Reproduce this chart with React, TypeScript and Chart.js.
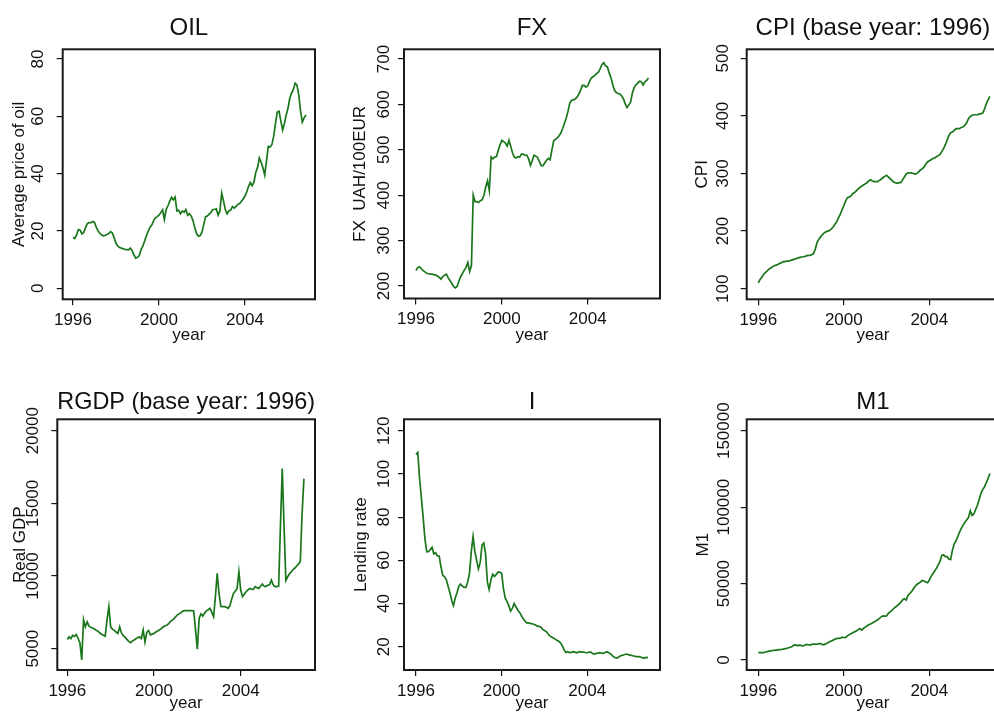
import React, { useEffect, useRef } from 'react';
import { Chart, registerables } from 'chart.js';
Chart.register(...registerables);

// ---------- data (monthly, starting January 1996) ----------
const START_YEAR = 1996;
const YEAR_TICKS = [1996, 2000, 2004];

const OIL = [
  17.8, 17.4, 18.6, 20.5, 20.3, 19.0, 19.5, 21.2, 22.6, 22.9, 22.9, 23.3,
  23.0, 21.3, 20.0, 19.2, 18.6, 18.3, 18.5, 18.8, 19.1, 19.8, 19.3, 17.5,
  15.7, 14.8, 14.2, 14.0, 13.8, 13.6, 13.5, 13.4, 14.0, 13.1, 11.7, 10.5,
  10.8, 11.4, 13.5, 14.8, 16.5, 18.4, 19.9, 21.3, 22.1, 23.6, 24.6, 25.0,
  25.5, 26.4, 27.4, 24.0, 27.5, 28.8, 30.4, 31.7, 30.9, 31.8, 27.0, 27.2,
  26.0, 27.0, 26.5, 27.5, 25.5, 26.0, 25.2, 23.6, 21.0, 19.0, 18.2, 18.4,
  19.7, 22.3, 25.0, 25.2, 25.9, 26.5, 27.5, 27.5, 27.7, 25.5, 27.0, 33.2,
  30.5, 27.5, 26.0, 27.0, 27.3, 28.5, 28.0, 28.6, 29.3, 29.6, 30.4, 31.2,
  32.2, 33.7, 35.6, 36.9, 35.8, 37.0, 40.4, 42.1, 45.5, 44.0, 42.1, 39.5,
  44.5, 49.5, 49.3, 50.1, 53.0, 57.5, 61.5, 61.8, 58.4, 55.2, 57.5, 60.5,
  62.8, 66.3, 68.1, 69.4, 71.6, 70.9, 67.5, 61.8, 58.0, 59.5, 60.5,
];
const OIL_TICKS = [0, 20, 40, 60, 80];

const FX = [
  234, 241, 242, 238, 234, 231, 228, 227, 226, 226, 225, 224,
  222, 219, 215, 221, 224, 226, 218, 212, 206, 199, 196, 199,
  211, 221, 228, 235, 241, 252, 232, 245, 400, 386, 386, 384,
  388, 390, 400, 418, 432, 410, 484, 480, 484, 485, 499, 511,
  521, 518, 515, 508, 521, 507, 493, 484, 482, 485, 484, 491,
  490, 488, 488, 480, 466, 476, 488, 486, 483, 474, 465, 465,
  471, 477, 481, 478, 500, 520, 523, 526, 531, 537, 547, 558,
  570, 585, 603, 609, 610, 612, 616, 622, 631, 642, 642, 638,
  641, 650, 658, 661, 664, 668, 671, 679, 688, 692, 685, 683,
  670, 659, 644, 631, 626, 624, 623, 619, 612, 601, 593, 599,
  605, 625, 637, 643, 647, 651, 650, 643, 650, 653, 658,
];
const FX_TICKS = [200, 300, 400, 500, 600, 700];

const CPI = [
  110, 116, 120, 125, 128, 131, 134, 136, 138, 140, 141, 142,
  144, 145, 147, 147, 148, 148, 149, 150, 151, 152, 153, 154,
  155, 155, 156, 157, 158, 158, 159, 161, 169, 180, 186, 190,
  194, 197, 199, 200, 201, 204, 207, 212, 216, 223, 229, 237,
  244, 252, 258, 259, 261, 265, 267, 270, 273, 276, 278, 280,
  282, 284, 287, 289, 287, 286, 286, 286, 288, 290, 293, 295,
  297, 294, 291, 288, 285, 284, 283, 284, 284, 289, 294, 299,
  301, 301, 301, 300, 299, 300, 303, 306, 308, 311, 316, 320,
  322, 324, 326, 327, 329, 331, 333, 338, 343, 350, 358, 366,
  371, 372, 375, 378, 378, 378, 380, 381, 384, 388, 395, 399,
  401, 402, 402, 402, 403, 404, 405, 412, 421, 428, 434,
];
const CPI_TICKS = [100, 200, 300, 400, 500];

const RGDP = [
  5640, 5820, 5700, 5920, 5850, 5980, 5700, 5400, 4220, 7000, 6500, 6850,
  6550, 6480, 6420, 6350, 6260, 6200, 6080, 6000, 5930, 5860, 7000, 7890,
  6500, 6350, 6260, 6150, 6050, 6500, 6080, 5900, 5780, 5640, 5500, 5410,
  5520, 5600, 5680, 5760, 5820, 5700, 6290, 5450, 6120, 6250, 5950, 6000,
  6050, 6150, 6220, 6290, 6380, 6490, 6560, 6610, 6700, 6860, 6950, 7050,
  7200, 7330, 7400, 7480, 7590, 7615, 7615, 7615, 7615, 7615, 7600, 6300,
  4960, 7100, 7400, 7250, 7450, 7600, 7680, 7780, 7500, 7200, 8600, 10180,
  8800, 7900, 7890, 7890, 7850, 7780, 7950, 8400, 8800, 8950, 9150, 10300,
  9040, 8580, 8750, 8920, 9050, 9150, 9100, 9080, 9270, 9200, 9150, 9300,
  9450, 9300, 9270, 9380, 9400, 9720, 9400, 9270, 9270, 9300, 13400, 17400,
  13400, 9700, 9950, 10150, 10300, 10450, 10550, 10690, 10830, 10990, 14300, 16700,
];
const RGDP_TICKS = [5000, 10000, 15000, 20000];

const LENDING = [
  109, 110, 98, 89, 80, 70, 64, 64, 65, 66, 63, 63.5,
  62, 62, 57, 53, 52.5, 51, 48, 45, 41.5, 39, 42.5, 45,
  48, 49, 48, 47.5, 47.5, 50, 54, 64, 71, 64, 60, 56,
  59, 67, 68, 63, 50, 46.5, 51, 53.5, 52.5, 53.5, 54.5, 54.5,
  54, 47, 42.5, 41, 39, 36.5, 37.7, 40, 38.5, 37, 36, 34.5,
  33, 32, 31, 31, 30.8, 30.6, 30.4, 30, 29.5, 29.4, 29, 28,
  27.5, 27, 26, 25, 24.5, 24, 23.5, 23, 22.5, 21.8, 20.5, 18.5,
  17.3, 17.7, 17.3, 17.4, 17.7, 17.5, 17.2, 17.5, 17.7, 17.5, 17.5, 17.3,
  17.2, 17.5, 17.5, 16.8, 16.6, 16.9, 17.0, 17.2, 17.0, 16.9, 17.3, 17.7,
  17.2, 16.8, 15.9, 15.2, 14.8, 14.8, 15.5, 15.9, 16.1, 16.4, 16.6, 16.3,
  16.1, 15.9, 15.7, 15.5, 15.4, 15.4, 15.2, 14.8, 14.7, 15.0, 14.9,
];
const LENDING_TICKS = [20, 40, 60, 80, 100, 120];

const M1 = [
  4800, 4800, 4800, 4850, 5200, 5500, 5800, 6000, 6200, 6350, 6500, 6650,
  6800, 6950, 7150, 7400, 7650, 8000, 8350, 8900, 9700, 9900, 9300, 9700,
  9600, 9200, 9700, 10200, 10000, 9800, 10200, 10450, 10350, 10300, 10700, 10700,
  10100, 10100, 10700, 11300, 11900, 12450, 13000, 13600, 14150, 14150, 14300, 15000,
  14700, 14600, 15800, 16600, 17200, 17800, 18400, 18900, 19900, 20600, 19600, 20600,
  21500, 22300, 23050, 23600, 24200, 24800, 25500, 26300, 27200, 28200, 28900, 28700,
  28800, 30600, 31500, 32400, 33700, 34700, 35500, 36500, 37700, 39300, 40100, 39200,
  42200, 43500, 44700, 46400, 48100, 49400, 50200, 50900, 52100, 51700, 51000, 50600,
  52200, 54700, 56400, 58200, 59900, 62200, 64500, 68400, 68800, 67600, 67600, 66000,
  65800, 72000, 76000, 78000, 80700, 83700, 86200, 88200, 90100, 91800, 93200, 97600,
  94500, 95500, 98400, 101200, 105000, 109000, 111500, 113300, 116000, 118800, 122000,
];
const M1_TICKS = [0, 50000, 100000, 150000];

// ---------- styling / layout ----------
const FONT = "'Liberation Sans', Arial, Helvetica, sans-serif";
const GREEN = '#1a761a';
const INK = '#111111';
const TICK_LEN = 6;
const AXIS_SIZE = 17;
const TITLE_SIZE = 24;

type PanelSpec = {
  title: string; yTitle: string; values: number[]; yTicks: number[];
  yMin: number; yMax: number; xMin: number; xMax: number;
  cx: number; cy: number; cw: number; ch: number;
  L: number; T: number; R: number; B: number;
  titleMid: number; yTitleX: number; yLabelOff: number; xLabelMid: number; xTitleMid: number;
};

const PANELS: PanelSpec[] = [
  { title: 'OIL', yTitle: 'Average price of oil', values: OIL, yTicks: OIL_TICKS,
    yMin: -3.84, yMax: 83.4, xMin: 1995.521, xMax: 2007.256,
    cx: 0, cy: 0, cw: 340, ch: 360, L: 62.7, T: 49.3, R: 315, B: 299.3,
    titleMid: 28, yTitleX: 19.7, yLabelOff: 24, xLabelMid: 320, xTitleMid: 335.5 },
  { title: 'FX', yTitle: 'FX  UAH/100EUR', values: FX, yTicks: FX_TICKS,
    yMin: 172.5, yMax: 721.4, xMin: 1995.441, xMax: 2007.37,
    cx: 330, cy: 0, cw: 340, ch: 360, L: 404, T: 49.3, R: 660, B: 298.5,
    titleMid: 28, yTitleX: 360, yLabelOff: 19.7, xLabelMid: 319.5, xTitleMid: 335.5 },
  { title: 'CPI (base year: 1996)', yTitle: 'CPI', values: CPI, yTicks: CPI_TICKS,
    yMin: 81.6, yMax: 515.6, xMin: 1995.457, xMax: 2007.27,
    cx: 660, cy: 0, cw: 350, ch: 360, L: 746.7, T: 49.3, R: 999.2, B: 299.3,
    titleMid: 28, yTitleX: 702.5, yLabelOff: 23.3, xLabelMid: 320, xTitleMid: 335.5 },
  { title: 'RGDP (base year: 1996)', yTitle: 'Real GDP', values: RGDP, yTicks: RGDP_TICKS,
    yMin: 3534, yMax: 20784, xMin: 1995.539, xMax: 2007.428,
    cx: 0, cy: 360, cw: 340, ch: 353, L: 57.3, T: 419.3, R: 315, B: 670,
    titleMid: 402.5, yTitleX: 20, yLabelOff: 24, xLabelMid: 691.7, xTitleMid: 703 },
  { title: 'I', yTitle: 'Lending rate', values: LENDING, yTicks: LENDING_TICKS,
    yMin: 9.2, yMax: 125.3, xMin: 1995.44, xMax: 2007.397,
    cx: 330, cy: 360, cw: 340, ch: 353, L: 404, T: 419.3, R: 660, B: 670,
    titleMid: 402.5, yTitleX: 361, yLabelOff: 19.5, xLabelMid: 691.7, xTitleMid: 703 },
  { title: 'M1', yTitle: 'M1', values: M1, yTicks: M1_TICKS,
    yMin: -6541, yMax: 157457, xMin: 1995.457, xMax: 2007.27,
    cx: 660, cy: 360, cw: 350, ch: 353, L: 746.7, T: 419.3, R: 999.2, B: 670,
    titleMid: 402.5, yTitleX: 703, yLabelOff: 22.5, xLabelMid: 691.7, xTitleMid: 703 },
];

const boxPlugin = {
  id: 'plotBox',
  afterDraw(chart: any) {
    const { ctx, chartArea: a } = chart;
    ctx.save();
    ctx.strokeStyle = '#1a1a1a';
    ctx.lineWidth = 2;
    ctx.strokeRect(a.left, a.top, a.right - a.left, a.bottom - a.top);
    ctx.restore();
  },
};

function makeChart(canvas: HTMLCanvasElement, p: PanelSpec) {
  const axisFont = { family: FONT, size: AXIS_SIZE, lineHeight: 1, weight: 'normal' };
  const titleFont = { family: FONT, size: TITLE_SIZE, lineHeight: 1, weight: 'normal' };
  const mctx = document.createElement('canvas').getContext('2d')!;
  mctx.font = `normal ${AXIS_SIZE}px ${FONT}`;
  const widest = Math.max(...p.yTicks.map((v) => mctx.measureText(String(v)).width));

  const boxL = p.L - p.cx;
  const boxR = p.R - p.cx;
  const boxT = p.T - p.cy;
  const boxB = p.B - p.cy;
  const titlePadTop = p.titleMid - p.cy - TITLE_SIZE / 2;
  const titlePadBottom = boxT - titlePadTop - TITLE_SIZE;
  const xTickPad = p.xLabelMid - p.B - TICK_LEN - AXIS_SIZE / 2;
  const xTitlePadBottom = p.ch - (p.xTitleMid - p.cy) - AXIS_SIZE / 2;
  const yTickPad = p.yLabelOff - TICK_LEN - widest / 2;
  const yTitlePadTop = p.yTitleX - p.cx - AXIS_SIZE / 2;

  const gridOpts = {
    drawOnChartArea: false,
    drawTicks: true,
    tickLength: TICK_LEN,
    color: INK,
    lineWidth: 1.2,
  };

  return new Chart(canvas, {
    type: 'line',
    data: {
      datasets: [{
        data: p.values.map((v, i) => ({ x: START_YEAR + i / 12, y: v })),
        borderColor: GREEN,
        borderWidth: 1.7,
        pointRadius: 0,
        tension: 0,
        fill: false,
      }],
    },
    options: {
      responsive: false,
      animation: false,
      devicePixelRatio: 1,
      events: [],
      layout: { padding: { left: 0, top: 0, bottom: 0, right: p.cw - boxR } },
      plugins: {
        legend: { display: false },
        tooltip: { enabled: false },
        title: {
          display: true,
          text: p.title,
          fullSize: false,
          color: INK,
          font: titleFont,
          padding: { top: titlePadTop, bottom: titlePadBottom },
        },
      },
      scales: {
        x: {
          type: 'linear',
          min: p.xMin,
          max: p.xMax,
          bounds: 'data',
          afterBuildTicks: (s: any) => { s.ticks = YEAR_TICKS.map((v) => ({ value: v })); },
          afterFit: (s: any) => { s.height = p.ch - boxB; },
          grid: gridOpts,
          border: { display: false },
          ticks: {
            autoSkip: false, minRotation: 0, maxRotation: 0,
            color: INK, font: axisFont, padding: xTickPad,
            callback: (v: any) => String(v),
          },
          title: {
            display: true, text: 'year', color: INK, font: axisFont,
            padding: { top: 0, bottom: xTitlePadBottom },
          },
        },
        y: {
          type: 'linear',
          min: p.yMin,
          max: p.yMax,
          bounds: 'data',
          afterBuildTicks: (s: any) => { s.ticks = p.yTicks.map((v) => ({ value: v })); },
          afterFit: (s: any) => { s.width = boxL; },
          grid: gridOpts,
          border: { display: false },
          ticks: {
            autoSkip: false, minRotation: 90, maxRotation: 90, crossAlign: 'center',
            color: INK, font: axisFont, padding: yTickPad,
            callback: (v: any) => String(v),
          },
          title: {
            display: true, text: p.yTitle, color: INK, font: axisFont,
            padding: { top: yTitlePadTop, bottom: 0 },
          },
        },
      },
    } as any,
    plugins: [boxPlugin],
  });
}

function Panel({ spec }: { spec: PanelSpec }) {
  const ref = useRef<HTMLCanvasElement>(null);
  useEffect(() => {
    if (!ref.current) return;
    const chart = makeChart(ref.current, spec);
    return () => chart.destroy();
  }, [spec]);
  return (
    <canvas
      ref={ref}
      width={spec.cw}
      height={spec.ch}
      style={{ position: 'absolute', left: spec.cx, top: spec.cy, width: spec.cw, height: spec.ch }}
    />
  );
}

export default function App() {
  return (
    <div
      style={{
        position: 'absolute', left: 0, top: 0, width: 994, height: 713,
        overflow: 'hidden', background: '#ffffff',
      }}
    >
      {PANELS.map((p) => (
        <Panel key={p.title} spec={p} />
      ))}
    </div>
  );
}
